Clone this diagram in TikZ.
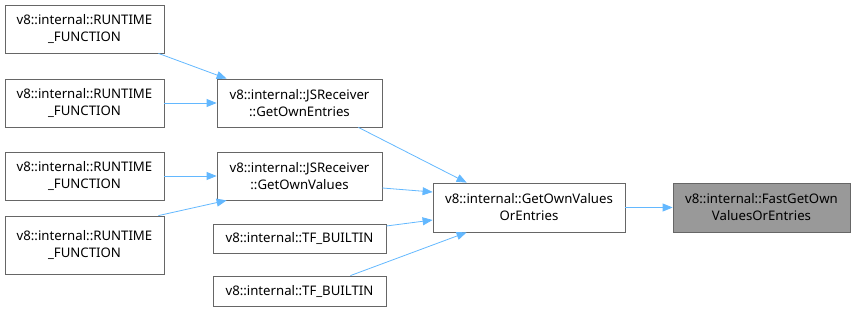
\documentclass[tikz,border=0pt]{standalone}
\usepackage{fontspec}
\setmainfont{Noto Sans}
\usetikzlibrary{arrows.meta}
\definecolor{edgeblue}{HTML}{63B8FF}
\definecolor{boxline}{HTML}{666666}
\definecolor{curfill}{HTML}{999999}
\begin{document}
\begin{tikzpicture}[x=1pt,y=-1pt,
  fn/.style={draw=boxline,fill=white,line width=0.8pt,align=center,inner sep=0pt,
    font=\fontsize{13.2}{17}\selectfont,text=black},
  cur/.style={fn,fill=curfill},
  call/.style={draw=edgeblue,line width=0.8pt,-{Triangle[length=10pt,width=8pt]}}]
\useasboundingbox (0,0) rectangle (855,313);
% callers of the JSReceiver helpers
\node[fn,minimum width=159pt,minimum height=48pt] (r1) at (84.5,29) {v8::internal::RUNTIME\\\_FUNCTION};
\node[fn,minimum width=159pt,minimum height=48pt] (r2) at (84.5,103) {v8::internal::RUNTIME\\\_FUNCTION};
\node[fn,minimum width=159pt,minimum height=48pt] (r3) at (84.5,176) {v8::internal::RUNTIME\\\_FUNCTION};
\node[fn,minimum width=159pt,minimum height=58pt] (r4) at (84.5,245) {v8::internal::RUNTIME\\\_FUNCTION};
% middle column
\node[fn,minimum width=165pt,minimum height=48pt] (goe) at (299.5,103) {v8::internal::JSReceiver\\::GetOwnEntries};
\node[fn,minimum width=165pt,minimum height=48pt] (gov) at (299.5,176) {v8::internal::JSReceiver\\::GetOwnValues};
\node[fn,minimum width=173pt,minimum height=29pt] (tf1) at (299.5,238.5) {v8::internal::TF\_BUILTIN};
\node[fn,minimum width=173pt,minimum height=30pt] (tf2) at (299.5,291) {v8::internal::TF\_BUILTIN};
% shared implementation and the documented function
\node[fn,minimum width=192pt,minimum height=49pt] (gove) at (529,207.5) {v8::internal::GetOwnValues\\OrEntries};
\node[cur,minimum width=177pt,minimum height=49pt] (fast) at (761.5,207.5) {v8::internal::FastGetOwn\\ValuesOrEntries};
% call edges
\draw[call] ([xshift=-6pt]r1.south east) -- ([xshift=10pt]goe.north west);
\draw[call] (r2.east) -- (goe.west);
\draw[call] (r3.east) -- (gov.west);
\draw[call] ([xshift=-6pt]r4.north east) -- ([xshift=10pt]gov.south west);
\draw[call] ([xshift=-24pt]goe.south east) -- ([xshift=34pt]gove.north west);
\draw[call] ([yshift=-12pt]gov.east) -- ([yshift=15.5pt]gove.west);
\draw[call] ([yshift=12.5pt]tf1.east) -- ([yshift=-12.5pt]gove.west);
\draw[call] ([xshift=-36pt]tf2.north east) -- ([xshift=34pt]gove.south west);
\draw[call] (gove.east) -- (fast.west);
\end{tikzpicture}
\end{document}
